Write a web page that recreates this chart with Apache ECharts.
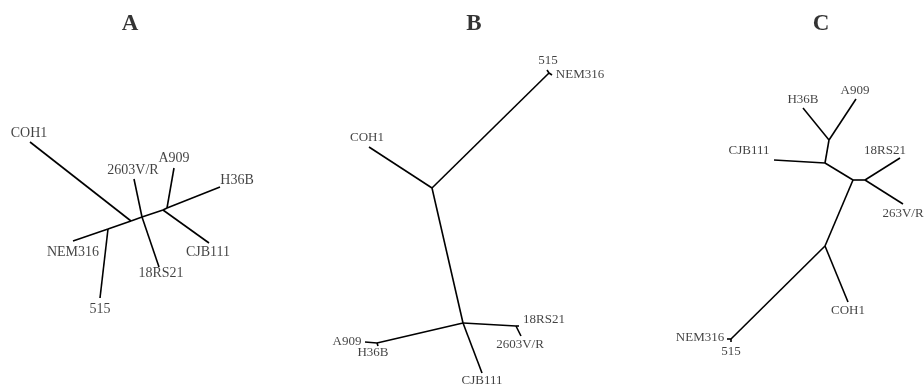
<!DOCTYPE html>
<html>
<head>
<meta charset="utf-8">
<script src="https://cdn.jsdelivr.net/npm/echarts@6/dist/echarts.min.js"></script>
<style>
html,body{margin:0;padding:0;background:#fff;}
#chart{width:924px;height:385px;}
</style>
</head>
<body>
<div id="chart"></div>
<script>
// Tree layouts (node positions in layout units of the shared plane)
const panelTitles = ['A', 'B', 'C'];
const titlePos = [[130, 24], [474, 24], [821, 24]];

// Panel A
const nodesA = {
  n1: [108, 229], nc: [131, 221], n2: [142, 217], n3: [163, 210], n4: [167, 208],
  COH1: [30, 142], NEM316: [73, 241], '515': [100, 298], '2603V/R': [134, 179],
  '18RS21': [159, 267], A909: [174, 168], H36B: [220, 187], CJB111: [209, 243]
};
const edgesA = [
  ['NEM316', 'n1'], ['n1', '515'], ['n1', 'nc'], ['nc', 'COH1'], ['nc', 'n2'],
  ['n2', '2603V/R'], ['n2', '18RS21'], ['n2', 'n3'], ['n3', 'CJB111'], ['n3', 'n4'],
  ['n4', 'A909'], ['n4', 'H36B']
];
const labelsA = [
  ['COH1', 29, 133], ['2603V/R', 133, 170], ['A909', 174, 158], ['H36B', 237, 180],
  ['NEM316', 73, 252], ['18RS21', 161, 273], ['CJB111', 208, 252], ['515', 100, 309]
];

// Panel B
const nodesB = {
  n1: [432, 188], n2: [463, 323], n3: [549, 73], n4: [377, 343], n5: [516, 326],
  '515': [547, 70], NEM316: [552, 75], COH1: [369, 147], A909: [365, 342], H36B: [378, 346],
  '18RS21': [519, 326], '2603V/R': [521, 336], CJB111: [482, 373]
};
const edgesB = [
  ['n1', 'n3'], ['n3', '515'], ['n3', 'NEM316'], ['n1', 'COH1'], ['n1', 'n2'],
  ['n2', 'n4'], ['n4', 'A909'], ['n4', 'H36B'], ['n2', 'n5'], ['n5', '18RS21'],
  ['n5', '2603V/R'], ['n2', 'CJB111']
];
const labelsB = [
  ['515', 548, 61], ['NEM316', 580, 75], ['COH1', 367, 138], ['A909', 347, 342],
  ['H36B', 373, 353], ['18RS21', 544, 320], ['2603V/R', 520, 345], ['CJB111', 482, 381]
];

// Panel C
const nodesC = {
  n1: [829, 140], n2: [825, 163], n3: [853, 180], n4: [865, 180], n5: [825, 246], n6: [731, 339],
  H36B: [803, 108], A909: [856, 99], CJB111: [774, 160], '18RS21': [900, 158],
  '263V/R': [903, 204], COH1: [848, 302], NEM316: [727, 339], '515': [731, 342]
};
const edgesC = [
  ['n1', 'H36B'], ['n1', 'A909'], ['n1', 'n2'], ['n2', 'CJB111'], ['n2', 'n3'],
  ['n3', 'n4'], ['n4', '18RS21'], ['n4', '263V/R'], ['n3', 'n5'], ['n5', 'COH1'],
  ['n5', 'n6'], ['n6', 'NEM316'], ['n6', '515']
];
const labelsC = [
  ['H36B', 803, 100], ['A909', 855, 91], ['CJB111', 749, 151], ['18RS21', 885, 151],
  ['263V/R', 903, 214], ['COH1', 848, 311], ['NEM316', 700, 338], ['515', 731, 352]
];

const panels = [
  { nodes: nodesA, edges: edgesA, labels: labelsA, fs: 14 },
  { nodes: nodesB, edges: edgesB, labels: labelsB, fs: 13 },
  { nodes: nodesC, edges: edgesC, labels: labelsC, fs: 13 }
];

const series = [];
panels.forEach((p, i) => {
  series.push({
    type: 'lines',
    coordinateSystem: 'cartesian2d',
    silent: true,
    lineStyle: { color: '#000', width: 1.6, opacity: 1 },
    data: p.edges.map(e => ({ coords: [p.nodes[e[0]], p.nodes[e[1]]] }))
  });
  series.push({
    type: 'scatter',
    symbolSize: 0,
    silent: true,
    data: p.labels.map(l => ({ name: l[0], value: [l[1], l[2]] })),
    label: {
      show: true, position: 'inside', formatter: '{b}',
      fontFamily: 'Liberation Serif', fontSize: p.fs, color: '#111'
    }
  });
});
series.push({
  type: 'scatter',
  symbolSize: 0,
  silent: true,
  data: panelTitles.map((t, i) => ({ name: t, value: titlePos[i] })),
  label: {
    show: true, position: 'inside', formatter: '{b}',
    fontFamily: 'Liberation Serif', fontWeight: 'bold', fontSize: 23, color: '#000'
  }
});

const chart = echarts.init(document.getElementById('chart'));
chart.setOption({
  animation: false,
  backgroundColor: '#fff',
  grid: { left: 0, right: 0, top: 0, bottom: 0 },
  xAxis: { type: 'value', min: 0, max: 924, show: false },
  yAxis: { type: 'value', min: 0, max: 385, inverse: true, show: false },
  series: series
});
</script>
</body>
</html>
